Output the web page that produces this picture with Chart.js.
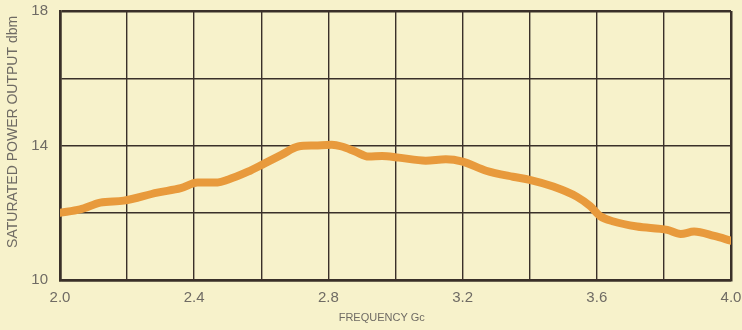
<!DOCTYPE html>
<html>
<head>
<meta charset="utf-8">
<script src="https://cdn.jsdelivr.net/npm/chart.js@4"></script>
<style>
  html, body { margin: 0; padding: 0; background: #f7f2cb; }
  #wrap { width: 742px; height: 330px; position: relative; }
</style>
</head>
<body>
<div id="wrap"><canvas id="c"></canvas></div>
<script>
const FREQ = [2.00, 2.06, 2.12, 2.19, 2.29, 2.36, 2.41, 2.47, 2.50, 2.56, 2.61, 2.66, 2.71, 2.76, 2.81, 2.84, 2.88, 2.92, 2.96, 3.01,
              3.09, 3.15, 3.20, 3.27, 3.35, 3.40, 3.47, 3.54, 3.58, 3.61, 3.65, 3.72, 3.81, 3.85, 3.89, 3.95, 4.00];
const POWER = [12.00, 12.10, 12.30, 12.36, 12.60, 12.73, 12.90, 12.90, 12.98, 13.22, 13.47, 13.72, 13.97, 14.00, 14.02, 13.97, 13.82, 13.67, 13.69, 13.64,
               13.55, 13.59, 13.52, 13.25, 13.07, 12.98, 12.78, 12.48, 12.20, 11.90, 11.74, 11.59, 11.49, 11.37, 11.44, 11.31, 11.17];
const X_LABELED = [2.0, 2.4, 2.8, 3.2, 3.6, 4.0];
const Y_LABELED = [10, 14, 18];

const GRID = "#3a3029";
const TEXT = "#6f6b64";
const LINE = "#e89a3c";

// 바깥 테두리 선은 조금 더 굵게
const edgeWidth = (min, max) => (ctx) => {
  const v = ctx.tick && ctx.tick.value;
  return (Math.abs(v - min) < 1e-6 || Math.abs(v - max) < 1e-6) ? 2.5 : 1.4;
};

new Chart(document.getElementById("c"), {
  type: "line",
  data: {
    datasets: [{
      data: FREQ.map((f, i) => ({ x: f, y: POWER[i] })),
      borderColor: LINE,
      borderWidth: 8,
      pointRadius: 0,
      cubicInterpolationMode: "monotone",
      borderCapStyle: "round",
      borderJoinStyle: "round",
    }],
  },
  options: {
    responsive: true, maintainAspectRatio: false, animation: false,
    layout: { padding: { top: 11, right: 11, left: 0, bottom: 0 } },
    plugins: { legend: { display: false }, tooltip: { enabled: false } },
    scales: {
      x: {
        type: "linear", min: 2.0, max: 4.0,
        afterFit: (s) => { s.height = 50; s.paddingLeft = 0; s.paddingRight = 0; },
        ticks: {
          stepSize: 0.2, color: TEXT, padding: 9, maxRotation: 0, autoSkip: false,
          font: { family: "Liberation Sans", size: 15 },
          callback: (v) => X_LABELED.some((t) => Math.abs(t - v) < 1e-6) ? v.toFixed(1) : "",
        },
        grid: { color: GRID, lineWidth: edgeWidth(2.0, 4.0), drawTicks: false },
        border: { color: GRID, width: 2.5 },
        title: {
          display: true, text: "FREQUENCY Gc         ", color: TEXT,
          font: { family: "Liberation Sans", size: 11 }, padding: { top: 0, bottom: 5 },
        },
      },
      y: {
        min: 10, max: 18,
        afterFit: (s) => { s.width = 60; s.paddingTop = 0; s.paddingBottom = 0; },
        ticks: {
          stepSize: 2, color: TEXT, padding: 12,
          font: { family: "Liberation Sans", size: 15 },
          callback: (v) => Y_LABELED.includes(v) ? String(v) : "",
        },
        grid: { color: GRID, lineWidth: edgeWidth(10, 18), drawTicks: false },
        border: { color: GRID, width: 2.5 },
        title: {
          display: true, text: "       SATURATED POWER OUTPUT dbm", color: TEXT,
          font: { family: "Liberation Sans", size: 14 }, padding: { top: 5, bottom: 0 },
        },
      },
    },
  },
});
</script>
</body>
</html>
